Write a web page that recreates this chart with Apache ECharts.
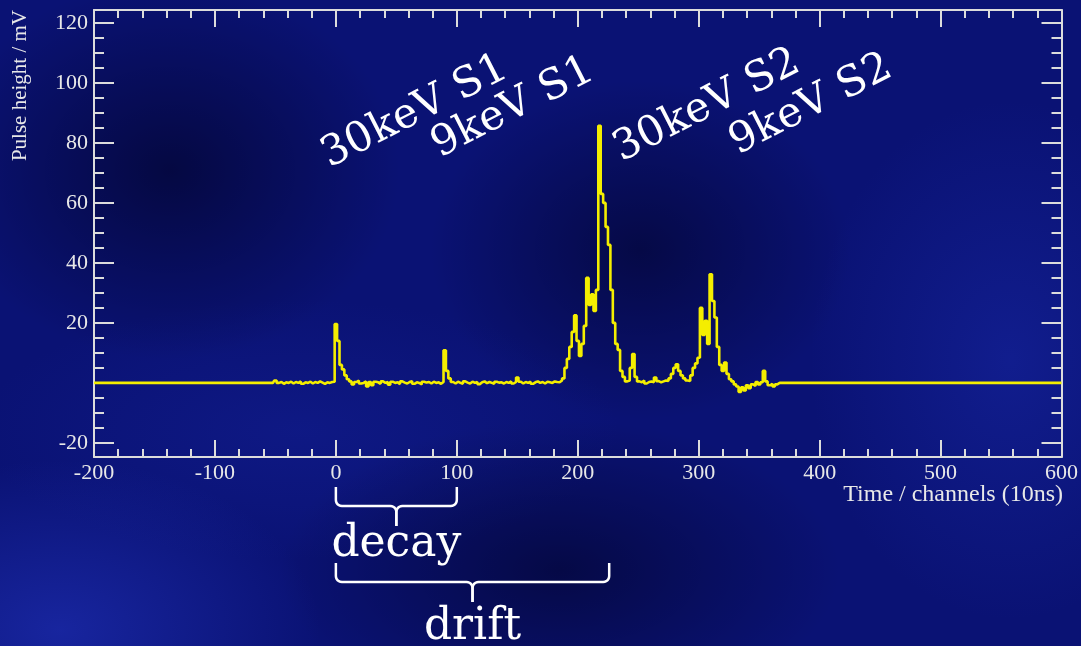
<!DOCTYPE html>
<html>
<head>
<meta charset="utf-8">
<script src="https://cdn.jsdelivr.net/npm/echarts@6/dist/echarts.min.js"></script>
<style>
  html, body { margin: 0; padding: 0; }
  #chart {
    width: 1081px; height: 646px;
    background:
      radial-gradient(ellipse 230px 190px at 170px 170px, rgba(0,0,25,0.55), rgba(0,0,25,0)),
      radial-gradient(ellipse 210px 170px at 640px 250px, rgba(0,0,25,0.5), rgba(0,0,25,0)),
      radial-gradient(ellipse 280px 150px at 560px 570px, rgba(0,0,25,0.5), rgba(0,0,25,0)),
      radial-gradient(ellipse 260px 170px at 60px 630px, rgba(40,60,210,0.45), rgba(40,60,210,0)),
      radial-gradient(ellipse 200px 260px at 1010px 360px, rgba(30,50,190,0.35), rgba(30,50,190,0)),
      radial-gradient(ellipse 320px 130px at 300px 430px, rgba(25,40,170,0.3), rgba(25,40,170,0)),
      #0a1274;
  }
</style>
</head>
<body>
<div id="chart"></div>
<script>
// Digitised detector pulse: one sample every 2 channels (10 ns each)
const traceStart = -50;
const sampleStep = 2;
const pulseHeight = [
  0.8, 0, 0.3, -0.3, 0.2, 0, 0.4, -0.2, 0.3, 0,            // -50
  0.5, -0.3, 0.2, 0, 0.4, -0.2, 0.3, 0, 0.5, 0.1,          // -30
  -0.3, 0.2, 0, 0.3, 0.4, 19.6, 14, 6, 4.5, 2.5,          // -10  (30 keV S1)
  1.2, 0.5, -0.5, 0.3, 0.8, -0.2, 0, 0.5, -1.2, 0.3,       // 10
  -0.8, 0.4, 0.2, -0.3, 0.5, 0, 0.3, -0.6, 0.4, 0,         // 30
  0.2, -0.4, 0.5, 0.1, -0.2, 0.3, 0.6, -0.3, 0.2, 0,       // 50
  -0.5, 0.4, 0.1, 0.3, -0.2, 0.4, 0, 0.2, -0.3, 0.3,       // 70
  10.9, 4, 1.5, 0.3, -0.2, 0.4, 0, -0.3, 0.5, 0.1,         // 90   (9 keV S1)
  -0.2, 0.4, 0, 0.3, -0.4, 0.2, 0.5, -0.1, 0.3, 0,         // 110
  -0.3, 0.4, 0.1, 0.2, -0.2, 0.3, 0, 0.5, -0.2, 0.3,       // 130
  1.8, 0.4, -0.2, 0.3, 0, 0.4, -0.3, 0.2, 0.5, 0,          // 150
  0.3, -0.2, 0.4, 0.2, 0, 0.5, 0.3, 0.2, 0.8, 1.5,         // 170
  5, 8, 12, 17, 22.5, 14, 9, 13, 19, 35,                   // 190  (30 keV S2)
  26, 29.5, 24, 31, 85.7, 63, 60, 52, 46, 31,              // 210
  20, 13, 11, 4, 2, 0.5, 0.8, 5, 9.6, 2,                   // 230
  0.5, 0.2, 0.8, -0.2, 0.3, 0.5, 0.2, 1.8, 0.6, 0.2,       // 250
  0.5, 0.8, 0.6, 1.5, 3, 5, 6.2, 4, 2.5, 1.5,              // 270
  0.8, 0.6, 2.5, 5, 6.5, 8.4, 25, 16, 20.7, 13,            // 290  (9 keV S2)
  36.2, 27.3, 21.8, 12, 6, 4, 6.8, 3, 1.2, 0.5,            // 310
  -0.5, -1.2, -3, -1.5, -2.5, -0.8, -1.8, -0.5, -1, 0.3,   // 330
  -0.5, 0.2, 4, 0.5, -0.8, -0.3, -1.2, -0.5, 0             // 350
];
// Record window outside the digitised stretch sits on the zero baseline
const recordStart = -200;
const recordEnd = 600;

// Axis ticks
const yMajorTicks = [-20, 0, 20, 40, 60, 80, 100, 120];
const yLabelTicks = [-20, 20, 40, 60, 80, 100, 120];
const yMinorTicks = [-15, -10, -5, 5, 10, 15, 25, 30, 35, 45, 50, 55, 65, 70, 75,
                     85, 90, 95, 105, 110, 115];

// Peak annotations
const peakLabels = ['30keV S1', '9keV S1', '30keV S2', '9keV S2'];
// Time spans marked under the axis (channels)
const decaySpan = [0, 100];
const driftSpan = [0, 226];

const traceData = [[recordStart, 0], [traceStart - sampleStep, 0]];
pulseHeight.forEach((v, i) => traceData.push([traceStart + i * sampleStep, v]));
traceData.push([traceStart + pulseHeight.length * sampleStep, 0]);
traceData.push([recordEnd, 0]);

const frameColor = '#dcdcdc';
const textColor = '#e8e8e8';
const serif = 'Liberation Serif';

function yAxisDef(position, ticks, len, showLine, labels) {
  return {
    type: 'value', position, min: -24.7, max: 124.3,
    axisLine: { show: showLine, onZero: false, lineStyle: { color: frameColor, width: 2 } },
    axisTick: { show: true, inside: true, length: len, customValues: ticks,
                lineStyle: { color: frameColor, width: 2 } },
    axisLabel: labels
      ? { show: true, customValues: labels, color: textColor, fontFamily: serif, fontSize: 22, margin: 6 }
      : { show: false },
    splitLine: { show: false }
  };
}
function xAxisDef(position, labels) {
  return {
    type: 'value', position, min: recordStart, max: recordEnd, interval: 100,
    axisLine: { show: true, onZero: false, lineStyle: { color: frameColor, width: 2 } },
    axisTick: { show: true, inside: true, length: 17, lineStyle: { color: frameColor, width: 2 } },
    minorTick: { show: true, splitNumber: 5, length: 8, lineStyle: { color: frameColor, width: 2 } },
    axisLabel: labels
      ? { show: true, color: textColor, fontFamily: serif, fontSize: 22, margin: 5 }
      : { show: false },
    splitLine: { show: false }
  };
}

const chart = echarts.init(document.getElementById('chart'), null, { renderer: 'canvas' });
chart.setOption({
  backgroundColor: 'transparent',
  animation: false,
  grid: { left: 94, right: 18, top: 10, bottom: 189 },
  xAxis: [xAxisDef('bottom', true), xAxisDef('top', false)],
  yAxis: [
    yAxisDef('left', yMajorTicks, 20, true, yLabelTicks),
    yAxisDef('left', yMinorTicks, 10, false, null),
    yAxisDef('right', yMajorTicks, 20, true, null),
    yAxisDef('right', yMinorTicks, 10, false, null)
  ],
  series: [{
    type: 'line', xAxisIndex: 0, yAxisIndex: 0,
    data: traceData, step: 'middle', showSymbol: false,
    lineStyle: { color: '#f4ee00', width: 2.6 }
  }]
});

// Quarter-circle corner points from (cx,cy) centre, radius r, angles a0..a1
function arcPts(cx, cy, r, a0, a1) {
  const pts = [];
  for (let k = 0; k <= 6; k++) {
    const a = a0 + (a1 - a0) * k / 6;
    pts.push([cx + r * Math.cos(a), cy + r * Math.sin(a)]);
  }
  return pts;
}
// Curly brace opening upward, with a centre tip pointing down
function bracePolylines(x0, x1, yTop, yBar, yTip, r) {
  const xm = (x0 + x1) / 2;
  const left = [[x0, yTop]]
    .concat(arcPts(x0 + r, yBar - r, r, Math.PI, Math.PI / 2))
    .concat(arcPts(xm - r, yBar + r, r, -Math.PI / 2, 0))
    .concat([[xm, yTip]]);
  const right = [[x1, yTop]]
    .concat(arcPts(x1 - r, yBar - r, r, 0, Math.PI / 2))
    .concat(arcPts(xm + r, yBar + r, r, -Math.PI / 2, -Math.PI))
    .concat([[xm, yTip]]);
  const st = { stroke: '#ffffff', lineWidth: 2.5, fill: null };
  return [
    { type: 'polyline', shape: { points: left }, style: st },
    { type: 'polyline', shape: { points: right }, style: st }
  ];
}

const px = v => chart.convertToPixel({ xAxisIndex: 0 }, v);
const dx0 = px(decaySpan[0]), dx1 = px(decaySpan[1]);
const rx0 = px(driftSpan[0]), rx1 = px(driftSpan[1]);

const annFont = { fontFamily: 'DejaVu Serif', fontSize: 42, fill: '#ffffff' };
const annCentres = [[415, 112], [513, 108], [707, 106], [811, 105]];
const tilt = 27 * Math.PI / 180;

chart.setOption({
  graphic: [
    { type: 'text', x: 20, y: 10, rotation: Math.PI / 2,
      style: { text: 'Pulse height / mV', fill: textColor, fontFamily: serif, fontSize: 21,
               align: 'right', verticalAlign: 'middle' } },
    { type: 'text', x: 1063, y: 495,
      style: { text: 'Time / channels (10ns)', fill: textColor, fontFamily: serif, fontSize: 24,
               align: 'right', verticalAlign: 'middle' } },
    ...peakLabels.map((t, i) => ({
      type: 'text', x: annCentres[i][0], y: annCentres[i][1], rotation: tilt, z: 10,
      style: Object.assign({ text: t, align: 'center', verticalAlign: 'middle' }, annFont)
    })),
    ...bracePolylines(dx0, dx1, 487, 506, 526, 6),
    { type: 'text', x: (dx0 + dx1) / 2, y: 545,
      style: { text: 'decay', fill: '#ffffff', fontFamily: 'DejaVu Serif', fontSize: 44,
               align: 'center', verticalAlign: 'middle' } },
    ...bracePolylines(rx0, rx1, 563, 582, 602, 6),
    { type: 'text', x: (rx0 + rx1) / 2, y: 628,
      style: { text: 'drift', fill: '#ffffff', fontFamily: 'DejaVu Serif', fontSize: 44,
               align: 'center', verticalAlign: 'middle' } }
  ]
});
</script>
</body>
</html>
